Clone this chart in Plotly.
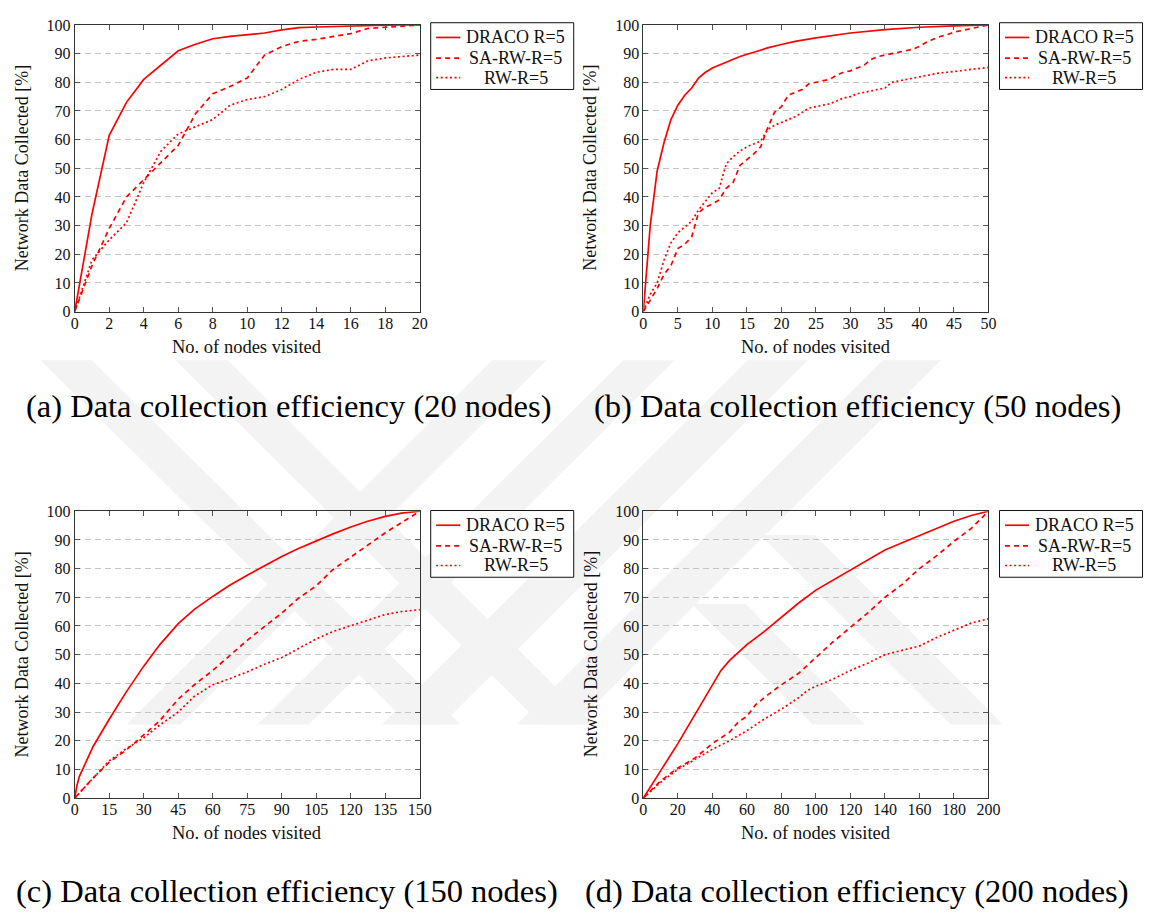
import plotly.graph_objects as go

W, H = 1156, 918
FONT = "'Liberation Serif', 'Times New Roman', 'DejaVu Serif', serif"
RED = "#ff0000"
INK = "#111111"

# ---------------- data ----------------
series_names = ["DRACO R=5", "SA-RW-R=5", "RW-R=5"]
captions = [
    "(a) Data collection efficiency (20 nodes)",
    "(b) Data collection efficiency (50 nodes)",
    "(c) Data collection efficiency (150 nodes)",
    "(d) Data collection efficiency (200 nodes)",
]
x_title = "No. of nodes visited"
y_title = "Network Data Collected [%]"
x_max = [20, 50, 150, 200]
x_dtick = [2, 5, 15, 20]

# (a) 20 nodes
x_a = list(range(0, 21))
draco_a = [0, 34, 61.5, 73, 81, 86, 91, 93.3, 95.2, 96, 96.5, 97.2, 98.3, 99.1, 99.3, 99.5, 99.7, 99.8, 99.9, 100, 100]
sarw_a = [0, 16, 29, 40, 46, 52, 58, 69, 76, 78.5, 81.5, 89.5, 92.5, 94.3, 95, 96, 97, 98.8, 99.2, 99.7, 100]
rw_a = [0, 18, 25, 31, 45, 56, 62, 64.5, 67, 72, 74, 75, 77.5, 81, 83.5, 84.5, 84.5, 87.5, 88.5, 89, 89.5]

# (b) 50 nodes
x_b_draco = [0, 1, 2, 3, 4, 5, 6, 7, 8, 9, 10, 12, 14, 16, 18, 20, 22, 25, 30, 35, 40, 45, 50]
draco_b = [0, 30, 49, 59, 67, 72, 75.5, 78, 81.5, 83.5, 85, 87, 89, 90.5, 92, 93.2, 94.3, 95.5, 97.2, 98.4, 99.2, 99.7, 100]
x_b = list(range(0, 51))
sarw_b = [0, 4, 8, 13, 16, 22, 23.5, 26, 34.5, 36.5, 37.5, 39, 43, 45, 51, 53, 55, 57.5, 64, 69.5,
          71.5, 75.5, 76.5, 77.5, 79.5, 80, 80.5, 81, 82.5, 83.5, 84, 85, 86, 88, 89, 89.5, 90, 90.5,
          91, 91.5, 92.5, 94, 95, 96, 96.6, 97.5, 98, 98.5, 99, 99.5, 100]
rw_b = [0, 6, 10, 18, 24, 27.5, 29.5, 31.5, 35.5, 38.5, 41.5, 43, 51.5, 54, 56, 57.5, 58.5, 59.5, 63.5, 65,
        66, 67, 68, 69.5, 71, 71.5, 72, 72.5, 73.5, 74.5, 75, 76, 76.5, 77, 77.5, 78, 80, 80.5, 81, 81.5,
        82, 82.5, 83, 83.3, 83.5, 83.8, 84, 84.2, 84.5, 84.8, 85.2]

# (c) 150 nodes
x_c_draco = [0, 1, 2, 5, 8, 15, 22, 30, 37, 45, 52, 60, 67, 75, 82, 90, 97, 105, 112, 120, 127, 135, 142, 150]
draco_c = [0, 4.5, 7.5, 13, 18, 27.5, 36.5, 46, 53.5, 60.8, 65.8, 70.3, 74, 77.7, 80.8, 84.2, 86.9, 89.7, 92, 94.5, 96.4, 98.2, 99.3, 100]
x_c = [0, 8, 15, 22, 30, 37, 45, 52, 60, 67, 75, 82, 90, 97, 105, 112, 120, 127, 135, 142, 150]
sarw_c = [0, 7, 12.5, 16.5, 22, 27, 34.5, 39.5, 44.5, 49.5, 55, 59.5, 64.5, 69.5, 74, 79.5, 84, 88, 92.5, 96, 100]
rw_c = [0, 7, 13, 17, 21, 25.5, 30, 35.5, 39.5, 41.5, 44, 46.5, 49, 52, 55.5, 58, 60, 62, 64, 65, 65.7]

# (d) 200 nodes
x_d_draco = [0, 5, 10, 20, 30, 40, 45, 50, 60, 70, 80, 90, 100, 110, 120, 130, 140, 150, 160, 170, 180, 190, 200]
draco_d = [0, 5, 9.5, 19, 29, 39.5, 44.5, 48, 53.5, 58, 63, 68, 72.5, 76, 79.5, 83, 86.5, 89, 91.5, 94, 96.5, 98.5, 100]
x_d_sarw = [0, 10, 20, 30, 40, 50, 55, 60, 65, 70, 80, 90, 100, 110, 120, 130, 140, 150, 160, 170, 180, 190, 200]
sarw_d = [0, 6, 10.5, 14, 19, 23, 26.5, 28.5, 32.5, 35, 39.5, 43.5, 49, 54.5, 59.5, 64.5, 70, 74.5, 80, 84.5, 89.5, 94, 100]
x_d_rw = [0, 10, 20, 30, 40, 50, 60, 70, 80, 90, 95, 100, 110, 120, 130, 140, 150, 160, 170, 180, 190, 200]
rw_d = [0, 5.5, 10, 13.5, 17, 20, 23.5, 27.5, 31, 35, 37.5, 39, 41.5, 44.5, 47, 50, 51.5, 53, 56, 58.5, 61, 62.5]

panels = [
    [(x_a, draco_a), (x_a, sarw_a), (x_a, rw_a)],
    [(x_b_draco, draco_b), (x_b, sarw_b), (x_b, rw_b)],
    [(x_c_draco, draco_c), (x_c, sarw_c), (x_c, rw_c)],
    [(x_d_draco, draco_d), (x_d_sarw, sarw_d), (x_d_rw, rw_d)],
]

# ---------------- layout helpers ----------------
def px(x):
    return x / W

def py(y):
    return 1 - y / H

# plot area boxes in pixels: (left, right, top, bottom)
boxes = [
    (71.7, 421.7, 17.3, 309.3),
    (648.3, 998.3, 17.3, 309.3),
    (71.7, 421.7, 512.7, 805.0),
    (648.3, 998.3, 512.7, 805.0),
]
legend_box = [(432.7, 15.0), (1009.5, 15.0), (432.7, 512.0), (1009.5, 512.0)]
LEG_W, LEG_H = 145.0, 68.0
LEG_ROWS = [15.0, 36.0, 56.0]
caption_pos = [(288, 406), (865, 406), (287, 900), (865, 900)]

dashes = ["solid", "5px,4px", "2px,2.6px"]

# faint page watermark behind the figure (pixel polygons)
WM_TOP, WM_BOT = 359, 730
watermark_bands = [
    [(37, WM_TOP), (89, WM_TOP), (463, WM_BOT), (411, WM_BOT)],
    [(174, WM_TOP), (227, WM_TOP), (598, WM_BOT), (545, WM_BOT)],
    [(495, WM_TOP), (550, WM_TOP), (179, WM_BOT), (124, WM_BOT)],
    [(628, WM_TOP), (680, WM_TOP), (309, WM_BOT), (257, WM_BOT)],
    [(754, WM_TOP), (815, WM_TOP), (444, WM_BOT), (383, WM_BOT)],
    [(891, WM_TOP), (950, WM_TOP), (579, WM_BOT), (520, WM_BOT)],
    [(767, 537), (822, 537), (1013, WM_BOT), (960, WM_BOT)],
    [(697, 607), (752, 607), (873, WM_BOT), (820, WM_BOT)],
]

fig = go.Figure()
annotations = []
shapes = []

for poly in watermark_bands:
    path = "M " + " L ".join(f"{px(x):.5f},{py(y):.5f}" for x, y in poly) + " Z"
    shapes.append(dict(
        type="path", xref="paper", yref="paper", path=path,
        fillcolor="#f3f3f3", line=dict(width=0), layer="below",
    ))

for i, (panel, box) in enumerate(zip(panels, boxes)):
    k = "" if i == 0 else str(i + 1)
    for j, (xs, ys) in enumerate(panel):
        fig.add_trace(go.Scatter(
            x=xs, y=ys, mode="lines", name=series_names[j],
            line=dict(color=RED, width=1.7, dash=dashes[j]),
            xaxis="x" + k, yaxis="y" + k, showlegend=False,
        ))
    l, r, t, b = box
    fig.layout["xaxis" + k] = dict(
        domain=[px(l), px(r)], anchor="y" + k, range=[0, x_max[i]],
        tick0=0, dtick=x_dtick[i], ticks="inside", ticklen=5, tickwidth=1,
        tickcolor="#555555", showline=True, linecolor="#333333", linewidth=1,
        mirror="ticks", showgrid=False, zeroline=False, ticklabelstandoff=-3,
        tickfont=dict(family=FONT, size=16, color=INK),
    )
    fig.layout["yaxis" + k] = dict(
        domain=[py(b), py(t)], anchor="x" + k, range=[0, 100],
        tick0=0, dtick=10, ticks="inside", ticklen=5, tickwidth=1,
        tickcolor="#555555", showline=True, linecolor="#333333", linewidth=1,
        mirror="ticks", showgrid=True, gridcolor="#c4c4c4", gridwidth=1,
        griddash="6px,4px", zeroline=False,
        tickfont=dict(family=FONT, size=16, color=INK),
    )
    # legend box (drawn by hand to match the LaTeX layout)
    lx, ly = legend_box[i]
    shapes.append(dict(
        type="rect", xref="paper", yref="paper",
        x0=px(lx), x1=px(lx + LEG_W), y0=py(ly), y1=py(ly + LEG_H),
        line=dict(color=INK, width=1), fillcolor="white", layer="above",
    ))
    for j, name in enumerate(series_names):
        yy = ly + LEG_ROWS[j]
        shapes.append(dict(
            type="line", xref="paper", yref="paper",
            x0=px(lx + 5.5), x1=px(lx + 30), y0=py(yy), y1=py(yy),
            line=dict(color=RED, width=1.7, dash=dashes[j]), layer="above",
        ))
        annotations.append(dict(
            text=name, xref="paper", yref="paper",
            x=px(lx + 86), y=py(yy), xanchor="center", yanchor="middle",
            showarrow=False, font=dict(family=FONT, size=18, color=INK),
        ))
    # axis titles
    annotations.append(dict(
        text=x_title, xref="paper", yref="paper",
        x=px((l + r) / 2), y=py(b + 36), xanchor="center", yanchor="middle",
        showarrow=False, font=dict(family=FONT, size=18.5, color=INK),
    ))
    annotations.append(dict(
        text=y_title, xref="paper", yref="paper",
        x=px(l - 53.5), y=py((t + b) / 2), xanchor="center", yanchor="middle",
        textangle=-90, showarrow=False, font=dict(family=FONT, size=18, color=INK),
    ))
    cx, cy = caption_pos[i]
    annotations.append(dict(
        text=captions[i], xref="paper", yref="paper",
        x=px(cx), y=py(cy), xanchor="center", yanchor="middle",
        showarrow=False, font=dict(family=FONT, size=32.5, color="#000000"),
    ))

fig.update_layout(
    width=W, height=H, autosize=False,
    margin=dict(l=0, r=0, t=0, b=0),
    paper_bgcolor="white", plot_bgcolor="rgba(0,0,0,0)",
    font=dict(family=FONT, color=INK),
    showlegend=False,
    annotations=annotations, shapes=shapes,
)
fig.write_html("out.html")
